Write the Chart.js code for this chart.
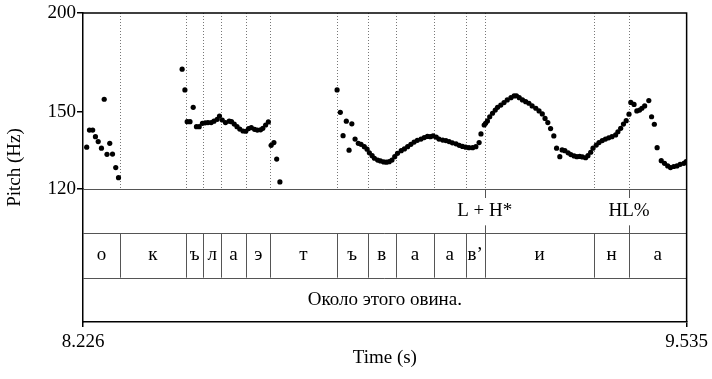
<!DOCTYPE html>
<html>
    <head>
        <meta charset="utf-8" />
        <script src="https://cdn.jsdelivr.net/npm/chart.js@4/dist/chart.umd.min.js"></script>
        <style>
         html, body {
             margin: 0;
             padding: 0;
             background: #fff;
         }
        </style>
        <title>Pitch</title>
    </head>
    <body>
        <canvas id="pitch" width="712" height="379"></canvas>
        <script>
            // pitch track (s, Hz)
            var times = [
                8.234, 8.240, 8.247, 8.253, 8.259, 8.266, 8.272, 8.278, 8.284, 8.290, 8.297, 8.303,
                8.441, 8.447, 8.452, 8.458, 8.465, 8.472, 8.478, 8.485, 8.491, 8.497, 8.504, 8.510,
                8.517, 8.522, 8.528, 8.535, 8.543, 8.548, 8.554, 8.560, 8.566, 8.573, 8.579, 8.585,
                8.591, 8.598, 8.604, 8.611, 8.616, 8.622, 8.628, 8.634, 8.640, 8.646, 8.653,
                8.777, 8.784, 8.790, 8.797, 8.803, 8.809, 8.816, 8.823, 8.829, 8.836, 8.842, 8.847,
                8.853, 8.858, 8.865, 8.871, 8.878, 8.884, 8.890, 8.896, 8.902, 8.908, 8.916, 8.923,
                8.930, 8.937, 8.944, 8.951, 8.959, 8.966, 8.973, 8.979, 8.985, 8.992, 8.998, 9.006,
                9.013, 9.020, 9.027, 9.035, 9.042, 9.049, 9.056, 9.063, 9.071, 9.078, 9.085, 9.089,
                9.096, 9.099, 9.103, 9.108, 9.114, 9.120, 9.125, 9.132, 9.139, 9.146, 9.154, 9.161,
                9.166, 9.172, 9.179, 9.186, 9.193, 9.200, 9.208, 9.215, 9.222, 9.228, 9.234, 9.240,
                9.247, 9.253, 9.260, 9.265, 9.271, 9.278, 9.284, 9.291, 9.297, 9.303, 9.309, 9.316,
                9.321, 9.327, 9.332, 9.339, 9.345, 9.352, 9.359, 9.366, 9.373, 9.381, 9.386, 9.392,
                9.398, 9.404, 9.410, 9.414, 9.421, 9.427, 9.433, 9.438, 9.444, 9.453, 9.459, 9.465,
                9.471, 9.480, 9.487, 9.494, 9.500, 9.507, 9.514, 9.521, 9.529, 9.534
            ];
            var pitch = [
                135.5, 142.4, 142.4, 139.7, 137.7, 135.1, 155.7, 132.7, 137.0, 132.8, 127.7, 124.0,
                169.9, 160.0, 145.9, 145.9, 152.1, 143.8, 143.8, 145.2, 145.4, 145.5, 145.5, 146.1,
                146.9, 148.3, 146.6, 145.5, 146.1, 145.9, 144.9, 143.8, 142.8, 142.0, 141.9, 143.0,
                143.4, 142.7, 142.4, 142.5, 143.1, 144.5, 145.8, 136.2, 137.3, 130.9, 122.5,
                160.0, 149.9, 140.1, 146.1, 134.3, 145.0, 138.7, 137.0, 136.6, 135.7, 134.7, 133.3,
                132.2, 131.2, 130.5, 130.2, 129.8, 129.7, 129.9, 130.5, 131.8, 133.1, 134.1, 134.8,
                135.7, 136.6, 137.5, 138.2, 138.7, 139.3, 139.8, 139.7, 140.0, 139.5, 138.7, 138.3,
                138.1, 137.7, 137.2, 136.8, 136.2, 135.8, 135.5, 135.3, 135.3, 135.7, 137.3, 140.8,
                144.5, 145.2, 146.2, 148.0, 149.5, 150.9, 152.1, 153.1, 154.2, 155.4, 156.4, 157.2,
                157.3, 156.4, 155.4, 154.6, 153.9, 152.7, 151.7, 150.5, 149.2, 147.3, 145.5, 143.0,
                140.0, 135.1, 131.8, 134.4, 134.1, 133.3, 132.6, 132.1, 131.8, 131.9, 131.7, 131.4,
                132.2, 133.5, 135.1, 136.3, 137.3, 138.1, 138.7, 139.2, 139.7, 140.4, 141.7, 143.1,
                144.9, 146.3, 149.1, 154.3, 153.4, 150.5, 150.9, 151.7, 152.7, 155.1, 148.0, 144.8,
                135.3, 130.3, 129.3, 128.3, 127.7, 128.1, 128.3, 128.9, 129.3, 129.9
            ];

            // TextGrid tiers
            var timeMin = 8.226;
            var timeMax = 9.535;
            var pitchTicks = [120, 150, 200];
            var timeTicks = [8.226, 9.535];
            var phoneBounds = [8.226, 8.306, 8.449, 8.487, 8.525, 8.580, 8.632, 8.776, 8.843,
                               8.905, 8.987, 9.056, 9.097, 9.335, 9.410, 9.535];
            var phoneLabels = ["о", "к", "ъ", "л", "а", "э", "т", "ъ", "в", "а", "а", "в’", "и", "н", "а"];
            var toneTimes = [9.097, 9.410];
            var toneLabels = ["L + H*", "HL%"];
            var sentence = "Около этого овина.";

            var FONT = "19px 'Liberation Serif', 'Times New Roman', serif";

            var tierPlugin = {
                id: 'tiers',
                beforeDatasetsDraw: function(chart) {
                    var ctx = chart.ctx, x = chart.scales.x, y = chart.scales.y;
                    ctx.save();
                    ctx.strokeStyle = '#777';
                    ctx.lineWidth = 1;
                    ctx.setLineDash([1, 2]);
                    for (var i = 1; i < phoneBounds.length - 1; i++) {
                        var px = Math.round(x.getPixelForValue(phoneBounds[i])) + 0.5;
                        ctx.beginPath();
                        ctx.moveTo(px, y.top);
                        ctx.lineTo(px, y.bottom);
                        ctx.stroke();
                    }
                    ctx.restore();
                },
                afterDraw: function(chart) {
                    var ctx = chart.ctx, x = chart.scales.x, y = chart.scales.y, t = chart.scales.tiers;
                    var left = x.left, right = x.right;
                    ctx.save();
                    // tier separators
                    ctx.strokeStyle = '#555';
                    ctx.lineWidth = 1;
                    [0, 1, 2].forEach(function(v) {
                        var py = Math.round(t.getPixelForValue(v)) + 0.5;
                        ctx.beginPath();
                        ctx.moveTo(left, py);
                        ctx.lineTo(right, py);
                        ctx.stroke();
                    });
                    // phone boundaries
                    var p1 = t.getPixelForValue(1), p2 = t.getPixelForValue(2);
                    for (var i = 1; i < phoneBounds.length - 1; i++) {
                        var px = Math.round(x.getPixelForValue(phoneBounds[i])) + 0.5;
                        ctx.beginPath();
                        ctx.moveTo(px, p1);
                        ctx.lineTo(px, p2);
                        ctx.stroke();
                    }
                    // tone point ticks
                    var p0 = t.getPixelForValue(0);
                    toneTimes.forEach(function(tt) {
                        var px = Math.round(x.getPixelForValue(tt)) + 0.5;
                        ctx.beginPath();
                        ctx.moveTo(px, p0);
                        ctx.lineTo(px, p0 + 9);
                        ctx.moveTo(px, p1 - 8);
                        ctx.lineTo(px, p1);
                        ctx.stroke();
                    });
                    // labels
                    ctx.fillStyle = '#000';
                    ctx.font = FONT;
                    ctx.textAlign = 'center';
                    ctx.textBaseline = 'middle';
                    toneTimes.forEach(function(tt, k) {
                        ctx.fillText(toneLabels[k], x.getPixelForValue(tt), t.getPixelForValue(0.5));
                    });
                    for (var j = 0; j < phoneLabels.length; j++) {
                        var cx = (x.getPixelForValue(phoneBounds[j]) + x.getPixelForValue(phoneBounds[j + 1])) / 2;
                        ctx.fillText(phoneLabels[j], cx, t.getPixelForValue(1.5));
                    }
                    ctx.fillText(sentence, (left + right) / 2, t.getPixelForValue(2.5));
                    // outer frame (top, right)
                    ctx.strokeStyle = '#000';
                    ctx.lineWidth = 1.5;
                    ctx.beginPath();
                    ctx.moveTo(left, y.top);
                    ctx.lineTo(right, y.top);
                    ctx.lineTo(right, t.bottom);
                    ctx.stroke();
                    // axis titles
                    ctx.fillText("Time (s)", (left + right) / 2, 358);
                    ctx.translate(15.5, (y.top + t.bottom) / 2);
                    ctx.rotate(-Math.PI / 2);
                    ctx.fillText("Pitch (Hz)", 0, 0);
                    ctx.restore();
                }
            };

            var pts = times.map(function(tm, i) { return {x: tm, y: pitch[i]}; });

            new Chart(document.getElementById("pitch"), {
                type: 'scatter',
                data: {
                    datasets: [{
                        data: pts,
                        yAxisID: 'y',
                        pointRadius: 2.6,
                        pointBackgroundColor: '#000',
                        pointBorderWidth: 0
                    }]
                },
                options: {
                    responsive: false,
                    animation: false,
                    devicePixelRatio: 1,
                    layout: { padding: { top: 13, right: 24, left: 0, bottom: 0 } },
                    plugins: { legend: { display: false }, tooltip: { enabled: false } },
                    scales: {
                        x: {
                            type: 'linear',
                            min: timeMin,
                            max: timeMax,
                            afterBuildTicks: function(s) { s.ticks = timeTicks.map(function(v) { return {value: v}; }); },
                            afterFit: function(s) { s.height = 57; },
                            ticks: {
                                color: '#000',
                                font: { family: "'Liberation Serif', serif", size: 19 },
                                padding: 4,
                                maxRotation: 0,
                                autoSkip: false,
                                callback: function(v) { return v.toFixed(3); }
                            },
                            grid: { drawOnChartArea: false, tickLength: 5, color: '#000', lineWidth: 1.5 },
                            border: { color: '#000', width: 1.5 }
                        },
                        tiers: {
                            type: 'linear',
                            min: 0,
                            max: 3,
                            reverse: true,
                            position: 'left',
                            stack: 'v',
                            stackWeight: 133,
                            afterFit: function(s) { s.width = 83; },
                            ticks: { display: false },
                            grid: { display: false },
                            border: { color: '#000', width: 1.5 }
                        },
                        y: {
                            type: 'logarithmic',
                            min: 120,
                            max: 200,
                            position: 'left',
                            stack: 'v',
                            stackWeight: 176,
                            afterBuildTicks: function(s) { s.ticks = pitchTicks.map(function(v) { return {value: v}; }); },
                            afterFit: function(s) { s.width = 83; },
                            ticks: {
                                color: '#000',
                                font: { family: "'Liberation Serif', serif", size: 19 },
                                padding: 1,
                                autoSkip: false,
                                callback: function(v) { return String(v); }
                            },
                            grid: { drawOnChartArea: false, tickLength: 6, color: '#000', lineWidth: 1.5 },
                            border: { color: '#000', width: 1.5 }
                        }
                    }
                },
                plugins: [tierPlugin]
            });
        </script>
    </body>
</html>
